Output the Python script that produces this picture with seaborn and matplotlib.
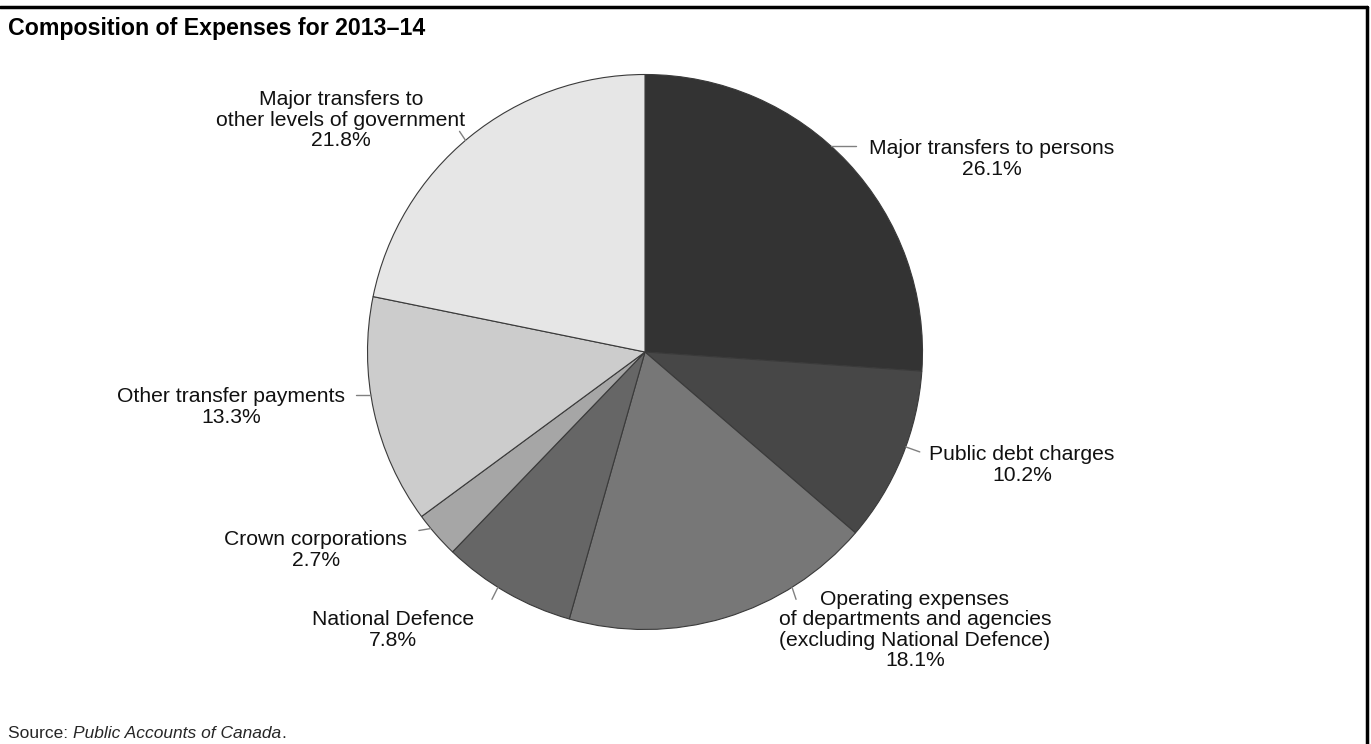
import numpy as np
import matplotlib
matplotlib.use("Agg")
import matplotlib.pyplot as plt
import seaborn as sns

# Expense categories (clockwise from 12 o'clock) and their shares, %
categories = [
    "Major transfers to persons",
    "Public debt charges",
    "Operating expenses\nof departments and agencies\n(excluding National Defence)",
    "National Defence",
    "Crown corporations",
    "Other transfer payments",
    "Major transfers to\nother levels of government",
]
shares = [26.1, 10.2, 18.1, 7.8, 2.7, 13.3, 21.8]
greys = ["#333333", "#474747", "#777777", "#666666", "#a6a6a6", "#cccccc", "#e6e6e6"]

title = "Composition of Expenses for 2013\u201314"
source_lead = "Source: "
source_name = "Public Accounts of Canada"

# label block centres (px) and leader lines: angle on rim (deg) + offset (px)
label_pos = [(992, 159), (1022, 465), (915, 630), (393, 630), (316, 550), (231, 407), (341, 120)]
leaders = [(47.8, 25, 0), (-20, 14, -5), (-58, 4, -12), (-122, -6, -12),
           (-140.5, -12, -2), (-171, -15, 0), (130.3, -6, 9)]

W, H = 1371, 744
sns.set_theme(style="white")
plt.rcParams["font.family"] = ["Liberation Sans", "DejaVu Sans"]

fig = plt.figure(figsize=(W / 100, H / 100), dpi=100)
fig.patch.set_facecolor("white")

cx, cy, R = 645, 352, 277.5
ax = fig.add_axes([(cx - R) / W, (H - cy - R) / H, 2 * R / W, 2 * R / H])
ax.pie(shares, colors=greys, startangle=90, counterclock=False, radius=1,
       wedgeprops=dict(edgecolor="#3a3a3a", linewidth=0.8))
ax.set_xlim(-1, 1)
ax.set_ylim(-1, 1)
ax.set_aspect("equal")
ax.axis("off")

for (ang, dx, dy) in leaders:
    a = np.deg2rad(ang)
    x0, y0 = np.cos(a), np.sin(a)
    ax.plot([x0, x0 + dx / R], [y0, y0 + dy / R], color="#808080", lw=1.0, clip_on=False)

for name, val, (px, py) in zip(categories, shares, label_pos):
    fig.text(px / W, 1 - py / H, f"{name}\n{val:.1f}%", ha="center", va="center",
             fontsize=15.2, linespacing=1.09, color="#111111")

fig.text(8 / W, 1 - 28 / H, title, ha="left", va="center", fontsize=16.7,
         fontweight="bold", color="black")

# source note: plain lead-in followed by the italic publication name
sy = 1 - 738 / H
t1 = fig.text(8 / W, sy, source_lead, ha="left", va="baseline", fontsize=12.5)
fig.canvas.draw()
bb = t1.get_window_extent()
t2 = fig.text(bb.x1 / W, sy, source_name, ha="left", va="baseline",
              fontsize=12.5, style="italic")
fig.canvas.draw()
bb2 = t2.get_window_extent()
fig.text(bb2.x1 / W, sy, ".", ha="left", va="baseline", fontsize=12.5)

# frame rules along the top and right
fig.add_artist(plt.Line2D([0, 1366.5 / W], [1 - 6.5 / H, 1 - 6.5 / H], color="black", lw=2.5))
fig.add_artist(plt.Line2D([1366.5 / W, 1366.5 / W], [0, 1 - 6.5 / H], color="black", lw=2.5))

fig.savefig("out.png", dpi=100)
